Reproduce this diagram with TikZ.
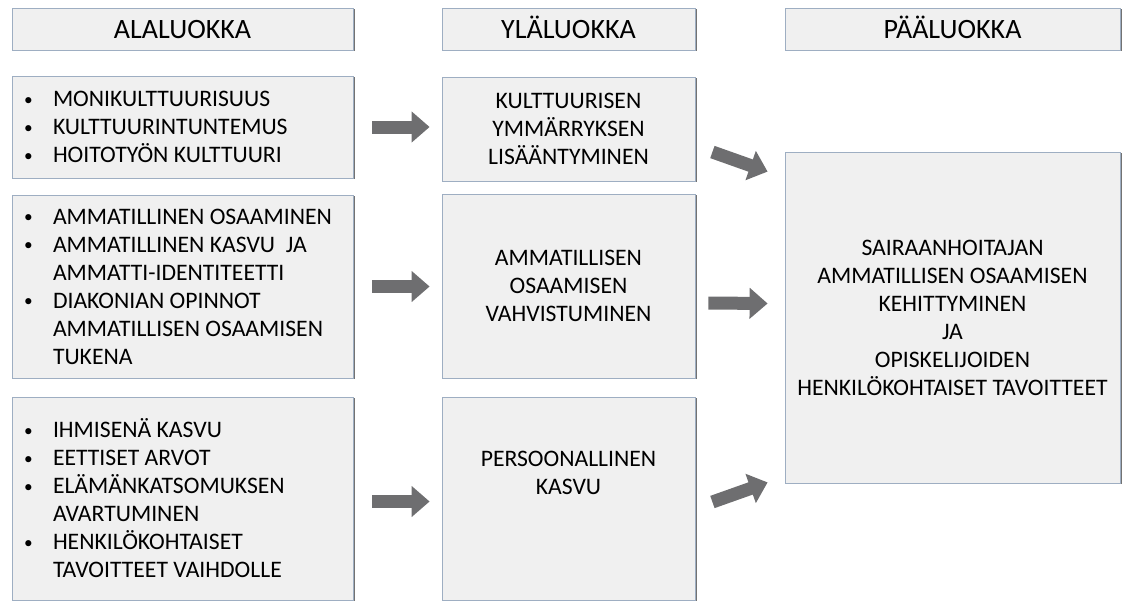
\documentclass[tikz,border=0pt]{standalone}
\usepackage{fontspec}
\setmainfont{Carlito}
\usetikzlibrary{arrows.meta,calc,shadows}

\definecolor{laatikkopohja}{RGB}{240,240,240}
\definecolor{laatikkoreuna}{RGB}{158,174,194}
\definecolor{nuolenvari}{RGB}{110,110,112}

\newcommand{\kohta}[1]{\makebox[21.75pt][l]{\raisebox{1pt}{\fontsize{13}{13}\selectfont\textbullet}}#1}
\newcommand{\jatko}[1]{\hspace*{21.75pt}#1}

\tikzset{
  laatikko/.style={draw=laatikkoreuna, fill=laatikkopohja, line width=0.6pt,
    drop shadow={shadow xshift=1.6pt, shadow yshift=-0.6pt, fill=black!65, opacity=0.85},
    inner sep=0pt, font=\fontsize{17.75}{21}\selectfont},
  otsikko/.style={laatikko, minimum height=31.5pt, text height=13.5pt, text depth=0pt,
    font=\fontsize{21}{24}\selectfont},
  lista/.style={laatikko, align=flush left, text width=237.75pt, inner xsep=9pt},
  keski/.style={laatikko, align=center, minimum width=189.75pt},
  nuoli/.style={draw=nuolenvari, line width=9.75pt,
    -{Triangle[length=13.5pt,width=22.5pt]}}
}

\begin{document}
\begin{tikzpicture}[x=0.75pt, y=-0.75pt]
    \useasboundingbox (0,0) rectangle (1124,603);

    % Otsikot
    \node[otsikko, minimum width=255.75pt] (ala) at (182.5,29) {ALALUOKKA};
    \node[otsikko, minimum width=189.75pt] (yla) at (568.5,29) {YLÄLUOKKA};
    \node[otsikko, minimum width=251.25pt] (paa) at (952.5,29) {PÄÄLUOKKA};

    % Alaluokat
    \node[lista, minimum height=76.5pt] (kult) at (182.5,127)
      {\kohta{MONIKULTTUURISUUS}\\
       \kohta{KULTTUURINTUNTEMUS}\\
       \kohta{HOITOTYÖN KULTTUURI}};
    \node[lista, minimum height=137.25pt] (amm) at (182.5,286.5)
      {\kohta{AMMATILLINEN OSAAMINEN}\\
       \kohta{AMMATILLINEN KASVU\ \ JA}\\
       \jatko{AMMATTI-IDENTITEETTI}\\
       \kohta{DIAKONIAN OPINNOT}\\
       \jatko{AMMATILLISEN OSAAMISEN}\\
       \jatko{TUKENA}};
    \node[lista, minimum height=152.25pt] (ihm) at (182.5,498.5)
      {\kohta{IHMISENÄ KASVU}\\
       \kohta{EETTISET ARVOT}\\
       \kohta{ELÄMÄNKATSOMUKSEN}\\
       \jatko{AVARTUMINEN}\\
       \kohta{HENKILÖKOHTAISET}\\
       \jatko{TAVOITTEET VAIHDOLLE}};

    % Yläluokat
    \node[keski, minimum height=78pt] (ymm) at (568.5,129)
      {KULTTUURISEN\\YMMÄRRYKSEN\\LISÄÄNTYMINEN};
    \node[keski, minimum height=138pt] (vahv) at (568.5,286)
      {AMMATILLISEN\\OSAAMISEN\\VAHVISTUMINEN};
    \node[keski, minimum height=152.25pt] (pers) at (568.5,498.5) {};
    \node[align=center, font=\fontsize{17.75}{21}\selectfont] (perstxt)
      at ($(pers.center)+(0,-26)$) {PERSOONALLINEN\\KASVU};

    % Pääluokka
    \node[laatikko, align=center, minimum width=251.25pt, minimum height=248.25pt]
      (kehit) at (952.5,317.5)
      {SAIRAANHOITAJAN\\AMMATILLISEN OSAAMISEN\\KEHITTYMINEN\\JA\\
       OPISKELIJOIDEN\\HENKILÖKOHTAISET TAVOITTEET};

    % Nuolet alaluokista yläluokkiin
    \draw[nuoli] ($(kult.east)+(19,0)$) -- ($(kult.east -| ymm.west)+(-12,0)$);
    \draw[nuoli] ($(amm.east)+(19,0)$) -- ($(amm.east -| vahv.west)+(-12,0)$);
    \draw[nuoli] ($(ihm.east)+(19,3)$) -- ($(ihm.east -| pers.west)+(-12,3)$);

    % Nuolet pääluokkaan
    \draw[nuoli] ($(ymm.east)+(17,23)$) -- ($(kehit.north west)+(-17,20)$);
    \draw[nuoli] ($(vahv.east)+(13,17)$) -- ($(kehit.west)+(-17,-14)$);
    \draw[nuoli] ($(pers.east)+(17,3.5)$) -- ($(kehit.south west)+(-17,-1)$);
\end{tikzpicture}
\end{document}
